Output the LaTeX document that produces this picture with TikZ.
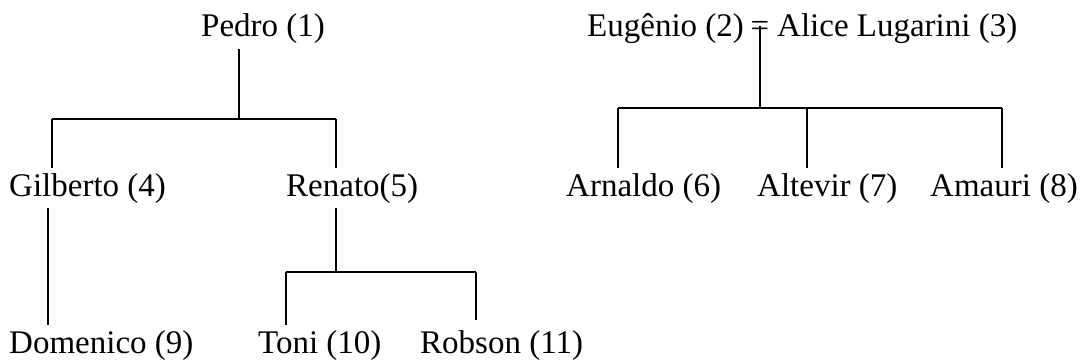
\documentclass[tikz,border=0pt]{standalone}
\usepackage{fontspec}
\setmainfont{Liberation Serif}
\begin{document}
\begin{tikzpicture}[x=1pt,y=-1pt,
  person/.style={anchor=base west,inner sep=5pt,font=\fontsize{33}{40}\selectfont},
  link/.style={line width=1.8pt,line cap=butt}]
\useasboundingbox (0,0) rectangle (1080,361);

% first family
\node[person] (pedro)    at (196,37)  {Pedro (1)};
\node[person] (gilberto) at (4,196)   {Gilberto (4)};
\node[person] (renato)   at (281,196) {Renato(5)};
\node[person] (domenico) at (4,353)   {Domenico (9)};
\node[person] (toni)     at (253,353) {Toni (10)};
\node[person] (robson)   at (415,353) {Robson (11)};

% second family
\node[person] (eugenio)  at (582,37)  {Eugênio (2)};
\node[anchor=base,inner sep=0pt,font=\fontsize{33}{40}\selectfont] (eq) at (760,37) {=};
\node[person] (alice)    at (772,37)  {Alice Lugarini (3)};
\node[person] (arnaldo)  at (561,196) {Arnaldo (6)};
\node[person] (altevir)  at (752,196) {Altevir (7)};
\node[person] (amauri)   at (925,196) {Amauri (8)};

% junction points
\coordinate (jp) at (239,119);
\coordinate (jg) at (52,119);
\coordinate (jr) at (336,119);
\coordinate (jrn) at (336,272);
\coordinate (jt) at (286,272);
\coordinate (jb) at (476,272);
\coordinate (je) at (760,108);
\coordinate (ja) at (618,108);
\coordinate (jv) at (807,108);
\coordinate (jm) at (1002,108);

% Pedro's children
\draw[link] (jp |- pedro.south) -- (jp);
\draw[link] (jg) -- (jr);
\draw[link] (jg) -- (jg |- gilberto.north);
\draw[link] (jr) -- (jr |- gilberto.north);
\draw[link] ([xshift=-4pt]jg |- gilberto.south) -- ([xshift=-4pt]jg |- domenico.north);

% Renato's children
\draw[link] (jrn |- renato.south) -- (jrn);
\draw[link] (jt) -- (jb);
\draw[link] (jt) -- (jt |- toni.north);
\draw[link] (jb) -- ([yshift=5pt]jb |- robson.north);

% children of the couple
\draw[link] ([yshift=11pt]eq.base) -- (je);
\draw[link] (ja) -- (jm);
\draw[link] (ja) -- (ja |- arnaldo.north);
\draw[link] (jv) -- (jv |- arnaldo.north);
\draw[link] (jm) -- (jm |- arnaldo.north);
\end{tikzpicture}
\end{document}
